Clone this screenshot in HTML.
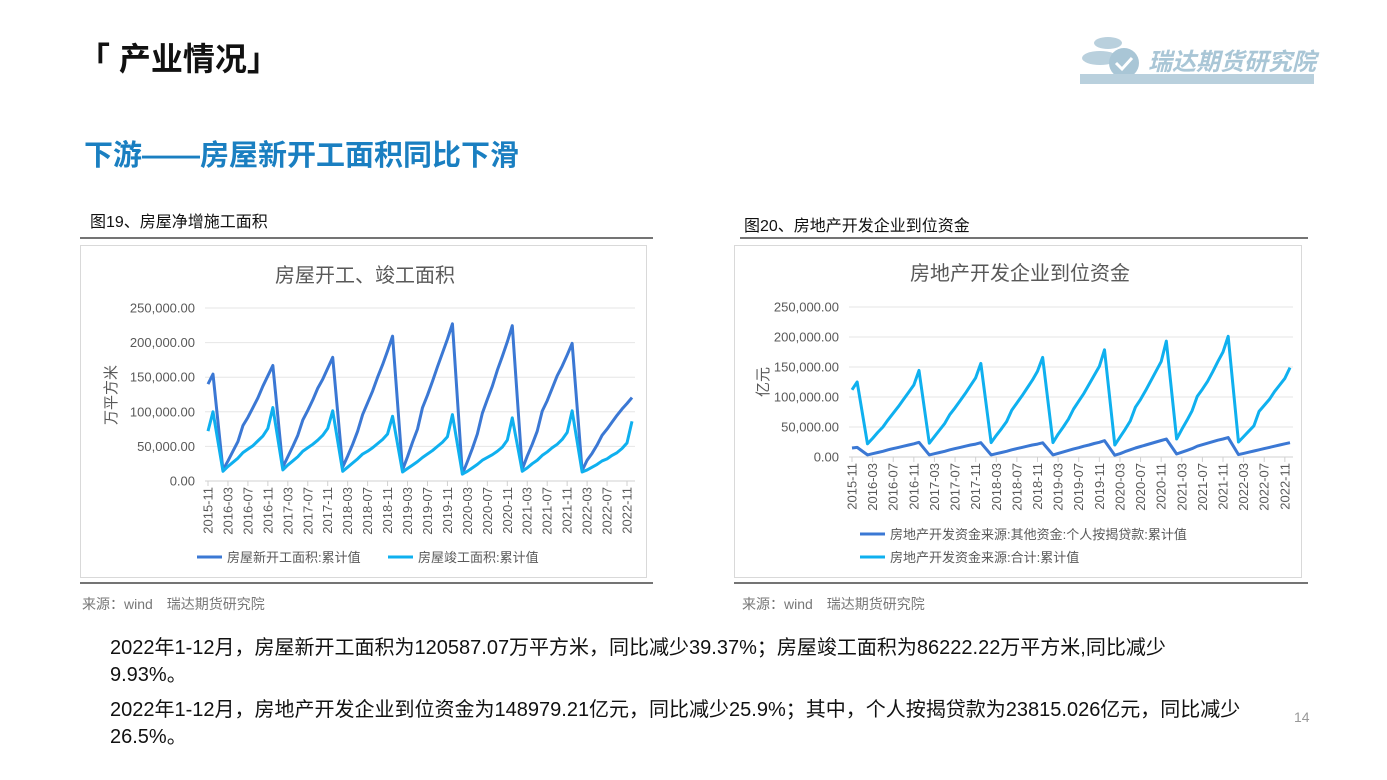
<!DOCTYPE html>
<html><head><meta charset="utf-8">
<style>
body{margin:0;width:1387px;height:780px;background:#fff;position:relative;overflow:hidden;font-family:"Liberation Sans","Noto Sans CJK SC",sans-serif;}
.a{position:absolute;white-space:nowrap;}
</style></head><body>
<div class="a" style="left:78px;top:34px;font-size:32px;font-weight:bold;color:#111;">「 产业情况」</div>
<div class="a" style="left:1078px;top:28px;width:236px;height:56px;">
 <svg width="236" height="56"><ellipse cx="22" cy="30" rx="18" ry="7" fill="#b9d0dd"/><ellipse cx="30" cy="15" rx="14" ry="6" fill="#b9d0dd"/><circle cx="46" cy="35" r="15" fill="#a9c6d6"/><path d="M38 35l6 6 10-11" stroke="#fff" stroke-width="3" fill="none"/><rect x="2" y="46" width="234" height="10" fill="#b9d0dd"/></svg>
 <div class="a" style="left:70px;top:14px;font-size:24px;font-weight:bold;font-style:italic;color:#a9c6d6;">瑞达期货研究院</div>
</div>
<div class="a" style="left:84px;top:132px;font-size:29px;font-weight:bold;color:#1a7fc1;">下游——房屋新开工面积同比下滑</div>
<div class="a" style="left:90px;top:208px;font-size:16px;color:#111;">图19、房屋净增施工面积</div>
<div class="a" style="left:744px;top:212px;font-size:16px;color:#111;">图20、房地产开发企业到位资金</div>
<div class="a" style="left:82px;top:594px;font-size:14px;color:#777;">来源：wind　瑞达期货研究院</div>
<div class="a" style="left:742px;top:594px;font-size:14px;color:#777;">来源：wind　瑞达期货研究院</div>
<div class="a" style="left:110px;top:635px;font-size:20px;line-height:27px;color:#111;">2022年1-12月，房屋新开工面积为120587.07万平方米，同比减少39.37%；房屋竣工面积为86222.22万平方米,同比减少<br>9.93%。</div>
<div class="a" style="left:110px;top:697px;font-size:20px;line-height:27px;color:#111;">2022年1-12月，房地产开发企业到位资金为148979.21亿元，同比减少25.9%；其中，个人按揭贷款为23815.026亿元，同比减少<br>26.5%。</div>
<div class="a" style="left:1294px;top:709px;font-size:14px;color:#999;">14</div>
<svg id="s" class="a" style="left:0;top:0" width="1387" height="780"></svg>
<script>
const ticksY=[0,50000,100000,150000,200000,250000];
const tickYLabels=["0.00","50,000.00","100,000.00","150,000.00","200,000.00","250,000.00"];
const xTickLabels=["2015-11","2016-03","2016-07","2016-11","2017-03","2017-07","2017-11","2018-03","2018-07","2018-11","2019-03","2019-07","2019-11","2020-03","2020-07","2020-11","2021-03","2021-07","2021-11","2022-03","2022-07","2022-11"];
const newStarts=[140000,154454,
16000,29000,43000,57000,80000,92000,106000,120000,137000,152000,166928,
20000,35000,50000,66000,88000,102000,117000,134000,147000,163000,178654,
20000,36000,53000,72000,96000,113000,130000,150000,168000,188000,209342,
16000,35000,56000,75000,106000,124000,144000,165000,185000,205000,227154,
10000,28000,47000,68000,98000,118000,137000,160000,180000,201000,224433,
17000,36000,53000,72000,101000,116000,134000,152000,166000,182000,198895,
15000,30000,40000,52000,66000,75000,85000,95000,104000,112000,120587];
const completions=[72000,100039,
14000,21000,27000,33000,41000,46000,51000,58000,65000,76000,106128,
16000,23000,29000,35000,43000,48000,53000,59000,66000,76000,101486,
14000,20000,26000,32000,39000,43000,48000,54000,60000,68000,93550,
13000,18000,23000,28000,34000,39000,44000,50000,56000,64000,95942,
10000,14000,19000,24000,30000,34000,38000,43000,49000,59000,91218,
14000,19000,25000,30000,37000,42000,48000,53000,60000,70000,101412,
13000,16000,20000,24000,29000,32000,37000,41000,47000,55000,86222];
const totalFunds=[112000,125000,
22000,31000,41000,50000,62000,73000,84000,96000,108000,120000,144214,
23000,34000,45000,56000,71000,82000,94000,106000,119000,132000,156053,
24000,36000,47000,59000,78000,90000,102000,115000,128000,143000,165963,
24000,38000,50000,63000,80000,93000,106000,121000,136000,151000,178609,
20000,33000,46000,60000,83000,96000,111000,127000,143000,159000,193115,
30000,46000,61000,77000,101000,113000,126000,142000,159000,175000,201132,
25000,34000,43000,52000,76000,86000,96000,109000,120000,131000,148979];
const mortgage=[15000,16000,
3500,5500,7500,9500,12000,14000,16000,18000,20000,22000,24403,
3500,5500,7500,9500,12000,14000,16000,18000,20000,21500,23906,
3500,5500,7500,9500,12000,14000,16000,18000,20000,21500,23706,
3500,6000,8500,11000,13500,15500,18000,20000,22500,24500,27281,
3000,5500,9000,12000,15000,17500,20000,22500,25000,27500,29976,
5000,8000,11000,14000,18000,20500,23000,25500,28000,30000,32388,
4000,6000,8000,10000,12000,14000,16000,18000,20000,22000,23815];
function monthIdx(){const r=[0,1];for(let y=0;y<7;y++)for(let m=1;m<=11;m++)r.push(2+y*12+m);return r;}
const NS="http://www.w3.org/2000/svg";
const svg=document.getElementById('s');
function el(t,a,p){const e=document.createElementNS(NS,t);for(const k in a)e.setAttribute(k,a[k]);(p||svg).appendChild(e);return e;}
function chart(c){
 const g=el('g',{});
 
 
 el('line',{x1:c.bx,y1:238,x2:c.bx2,y2:238,stroke:'#222','stroke-width':1.2},g);
 el('line',{x1:c.bx0,y1:583,x2:c.bx2,y2:583,stroke:'#222','stroke-width':1.2},g);
 el('rect',{x:c.bx0+0.5,y:245.5,width:c.bx2-c.bx0-7,height:332,fill:'none',stroke:'#d9d9d9'},g);
 const t=el('text',{x:c.tx,y:c.ty,'font-size':20,fill:'#595959','text-anchor':'middle'},g);t.textContent=c.title;
 
 const sy=v=>c.y0-(v/250000)*(c.y0-c.y1);
 const sx=i=>c.x0+i*(c.x1-c.x0)/85;
 ticksY.forEach((v,i)=>{
  const gl=el('line',{x1:c.x0-3,x2:c.x1+3,y1:sy(v),y2:sy(v),stroke:i?'#e6e6e6':'#d0d0d0'},g);
  
  const tl=el('text',{x:c.x0-13,y:sy(v)+4.5,'font-size':13,fill:'#595959','text-anchor':'end'},g);tl.textContent=tickYLabels[i];
  
 });
 xTickLabels.forEach((s,i)=>{
  const x=sx(i*4);
  el('line',{x1:x,x2:x,y1:c.y0,y2:c.y0+5,stroke:'#d0d0d0'},g);
  const tl=el('text',{transform:`translate(${x+4.5},${c.y0+6}) rotate(-90)`,'font-size':13,fill:'#595959','text-anchor':'end'},g);tl.textContent=s;
  
 });
 const at=el('text',{transform:`translate(${c.ax},${c.ay}) rotate(-90)`,'font-size':15,fill:'#595959','text-anchor':'middle'},g);at.textContent=c.axis;
 
 const mi=monthIdx();
 c.series.forEach(s=>{
  const p=el('polyline',{points:s.d.map((v,i)=>sx(mi[i])+','+sy(v)).join(' '),fill:'none',stroke:s.col,'stroke-width':3,'stroke-linejoin':'round'},g);
  
  el('line',{x1:s.lx,x2:s.lx+25,y1:s.ly,y2:s.ly,stroke:s.col,'stroke-width':3},g);
  const lt=el('text',{x:s.lx+30,y:s.ly+5,'font-size':13,fill:'#595959'},g);lt.textContent=s.lab;
  
 });
}
chart({name:'floor-area-chart',bx:80,bx0:80,bx2:653,tx:365,ty:282,title:'房屋开工、竣工面积',x0:208,x1:632,y0:481,y1:308,ax:116,ay:395,axis:'万平方米',
 series:[{d:newStarts,col:'#3b78d4',nm:'line-new-starts',lx:197,ly:557,lab:'房屋新开工面积:累计值'},{d:completions,col:'#0fb0ef',nm:'line-completions',lx:388,ly:557,lab:'房屋竣工面积:累计值'}]});
chart({name:'funding-chart',bx:740,bx0:734,bx2:1308,tx:1020,ty:280,title:'房地产开发企业到位资金',x0:852,x1:1290,y0:457,y1:307,ax:768,ay:382,axis:'亿元',
 series:[{d:mortgage,col:'#3b78d4',nm:'line-mortgage',lx:860,ly:534,lab:'房地产开发资金来源:其他资金:个人按揭贷款:累计值'},{d:totalFunds,col:'#0fb0ef',nm:'line-total-funds',lx:860,ly:557,lab:'房地产开发资金来源:合计:累计值'}]});
</script>
</body></html>
